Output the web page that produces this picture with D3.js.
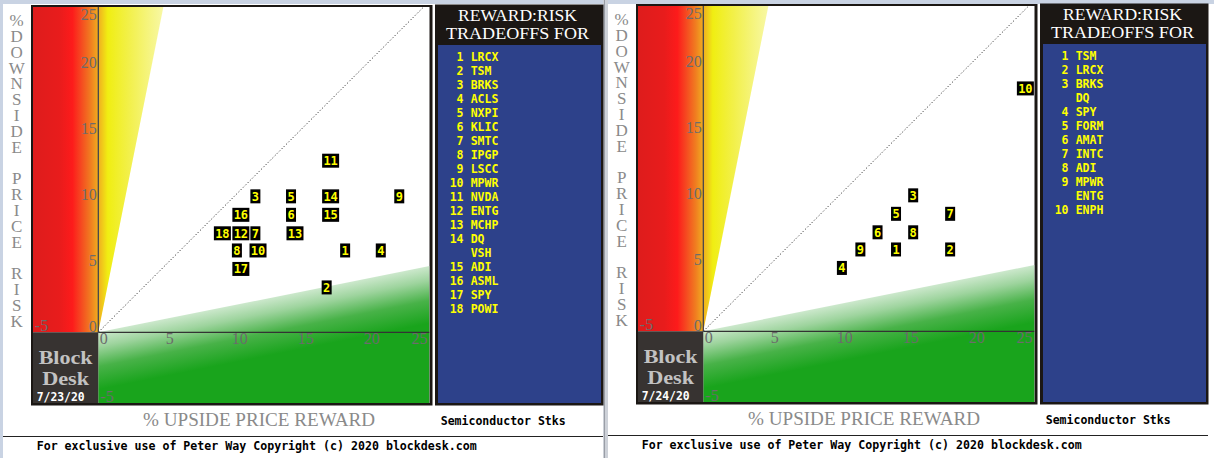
<!DOCTYPE html>
<html><head><meta charset="utf-8">
<script src="https://cdn.jsdelivr.net/npm/d3@7"></script>
<style>html,body{margin:0;padding:0;background:#fff;overflow:hidden}</style>
</head><body><svg id="c" width="1214" height="458"></svg>
<script>
// ---------- data ----------
const tickValues = [-5, 0, 5, 10, 15, 20, 25];
const yTitle = "%DOWNSIDE PRICE RISK";
const xTitle = "% UPSIDE PRICE REWARD";
const legendTitle = ["REWARD:RISK", "TRADEOFFS FOR"];
const groupName = "Semiconductor Stks";
const footer = "For exclusive use of Peter Way Copyright (c) 2020 blockdesk.com";
const dates = ["7/23/20", "7/24/20"];

const leftLabels = ["1","2","3","4","5","6","7","8","9","10","11","12","13","14","15","16","17","18"];
const leftReward = [18.7, 17.3, 11.9, 21.4, 14.6, 14.6, 11.9, 10.5, 22.8, 12.1, 17.6, 10.8, 14.9, 17.6, 17.6, 10.8, 10.8, 9.4];
const leftRisk   = [6.2, 3.4, 10.3, 6.2, 10.3, 8.9, 7.5, 6.2, 10.3, 6.2, 13.0, 7.5, 7.5, 10.3, 8.9, 8.9, 4.8, 7.5];
const leftLegendNums = ["1","2","3","4","5","6","7","8","9","10","11","12","13","14","","15","16","17","18"];
const leftLegendTickers = ["LRCX","TSM","BRKS","ACLS","NXPI","KLIC","SMTC","IPGP","LSCC","MPWR","NVDA","ENTG","MCHP","DQ","VSH","ADI","ASML","SPY","POWI"];

const rightLabels = ["1","2","3","4","5","6","7","8","9","10"];
const rightReward = [14.6, 18.7, 15.9, 10.5, 14.6, 13.2, 18.7, 15.9, 11.9, 24.4];
const rightRisk   = [6.2, 6.2, 10.3, 4.8, 8.9, 7.5, 8.9, 7.5, 6.2, 18.4];
const rightLegendNums = ["1","2","3","","4","5","6","7","8","9","","10"];
const rightLegendTickers = ["TSM","LRCX","BRKS","DQ","SPY","FORM","AMAT","INTC","ADI","MPWR","ENTG","ENPH"];

// ---------- drawing ----------
const W = 1214, H = 458;
const SERIF = "'Liberation Serif','Times New Roman',serif";
const MONO = "'DejaVu Sans Mono','Liberation Mono',monospace";
const svg = d3.select("#c");
const defs = svg.append("defs");

svg.append("rect").attr("width", W).attr("height", H).attr("fill", "#fff");
svg.append("rect").attr("x", 0).attr("y", 0).attr("width", W).attr("height", 4).attr("fill", "#c9d3e3");
svg.append("rect").attr("x", 0).attr("y", 0).attr("width", 3).attr("height", H).attr("fill", "#c9d3e3");
svg.append("rect").attr("x", 603).attr("y", 0).attr("width", 5).attr("height", H).attr("fill", "#cdd1d8");
svg.append("line").attr("x1", 604.5).attr("x2", 604.5).attr("y1", 0).attr("y2", H).attr("stroke", "#9a9ea6").attr("stroke-width", 1);

function panel(idx, ox, oy, labels, reward, risk, lNums, lTickers, date) {
  const g = svg.append("g");
  const px = 13.2;
  const x0 = ox + 98.3, y0 = oy + 332.3;
  const x = d3.scaleLinear().domain([-5, 25]).range([x0 - 5 * px, x0 + 25 * px]);
  const y = d3.scaleLinear().domain([-5, 25]).range([y0 + 5 * px, y0 - 25 * px]);
  const left = ox + 33, right = ox + 429.5, top = oy + 7, bottom = oy + 403;
  const xLo = x.invert(left), xHi = x.invert(right), yHi = y.invert(top), yLo = y.invert(bottom);

  // frame
  g.append("rect").attr("x", ox + 31).attr("y", oy + 5).attr("width", 401.5).attr("height", 400.5).attr("fill", "#1b1714");
  g.append("rect").attr("x", left).attr("y", top).attr("width", right - left).attr("height", bottom - top).attr("fill", "#fff");

  const clipId = "clip" + idx;
  defs.append("clipPath").attr("id", clipId).append("rect")
    .attr("x", left).attr("y", top).attr("width", right - left).attr("height", bottom - top);

  // gradients
  const hot = defs.append("linearGradient").attr("id", "hot" + idx)
    .attr("gradientUnits", "userSpaceOnUse")
    .attr("x1", x(xLo)).attr("x2", x(5)).attr("y1", 0).attr("y2", 0);
  [[0, "#de1c1c"], [0.2, "#e81c1c"], [0.3, "#fd1b1b"], [0.36, "#f64420"], [0.44, "#f07e20"],
   [0.5, "#f0b020"], [0.57, "#f0ee12"], [0.73, "#f2f04a"], [1, "#f8f8a8"]]
    .forEach(s => hot.append("stop").attr("offset", s[0]).attr("stop-color", s[1]));
  const grn = defs.append("linearGradient").attr("id", "grn" + idx)
    .attr("gradientUnits", "userSpaceOnUse")
    .attr("x1", x(0)).attr("y1", y(0)).attr("x2", x(0) + 11).attr("y2", y(0) + 55);
  [[0, "#cce8cc"], [0.25, "#9ed49e"], [0.6, "#48b248"], [1, "#19a41c"]]
    .forEach(s => grn.append("stop").attr("offset", s[0]).attr("stop-color", s[1]));

  const pg = g.append("g").attr("clip-path", `url(#${clipId})`);
  const poly = pts => pts.map(p => [x(p[0]), y(p[1])].join(",")).join(" ");

  // red zone (left of y axis, above x axis)
  pg.append("polygon").attr("points", poly([[xLo, 0], [xLo, yHi], [0, yHi], [0, 0]])).attr("fill", `url(#hot${idx})`);
  // yellow wedge (risk > 5x reward)
  pg.append("polygon").attr("points", poly([[0, 0], [0, yHi], [yHi / 5, yHi]])).attr("fill", `url(#hot${idx})`);
  // green zone (reward > 5x risk)
  pg.append("polygon").attr("points", poly([[0, 0], [xHi, xHi / 5], [xHi, yLo], [0, yLo]])).attr("fill", `url(#grn${idx})`);
  // dark brand box
  pg.append("polygon").attr("points", poly([[xLo, 0], [0, 0], [0, yLo], [xLo, yLo]])).attr("fill", "#373331");

  // 1:1 dotted diagonal
  const dmax = Math.min(xHi, yHi);
  pg.append("line").attr("x1", x(0)).attr("y1", y(0)).attr("x2", x(dmax)).attr("y2", y(dmax))
    .attr("stroke", "#111").attr("stroke-width", 1).attr("stroke-dasharray", "1,2.2");

  // axes lines
  pg.append("line").attr("x1", x(0)).attr("x2", x(0)).attr("y1", y(yHi)).attr("y2", y(0))
    .attr("stroke", "#3a3a4a").attr("stroke-width", 1.2);
  pg.append("line").attr("x1", x(0)).attr("x2", x(xHi)).attr("y1", y(0)).attr("y2", y(0))
    .attr("stroke", "#333").attr("stroke-width", 1.2);

  // tick labels
  const tickColor = "#6c6c6c";
  tickValues.forEach(v => {
    const t = String(v);
    if (v === -5) {
      g.append("text").text(t).attr("x", x(0) + 2).attr("y", bottom - 1)
        .attr("font-family", SERIF).attr("font-size", 16).attr("fill", tickColor);
    } else {
      g.append("text").text(t).attr("x", x(0) - 1.5)
        .attr("y", Math.max(top + 12.5, Math.min(y(v), bottom - 1)))
        .attr("text-anchor", "end").attr("font-family", SERIF).attr("font-size", 16).attr("fill", tickColor);
    }
  });
  tickValues.forEach(v => {
    const t = String(v);
    if (v === -5) {
      g.append("text").text(t).attr("x", x(v) + 2.5).attr("y", y(0) - 1.5)
        .attr("font-family", SERIF).attr("font-size", 16).attr("fill", tickColor);
    } else {
      const w = 8 * t.length;
      g.append("text").text(t).attr("x", Math.min(x(v) + 1.5, right - 2 - w)).attr("y", y(0) + 11.5)
        .attr("font-family", SERIF).attr("font-size", 16).attr("fill", tickColor);
    }
  });

  // brand text
  const bx = (x(xLo) + x(0)) / 2;
  g.append("text").text("Block").attr("x", bx).attr("y", oy + 364).attr("text-anchor", "middle")
    .attr("font-family", SERIF).attr("font-weight", "bold").attr("font-size", 18.5).attr("fill", "#c2c2c2")
    .attr("textLength", 54).attr("lengthAdjust", "spacingAndGlyphs");
  g.append("text").text("Desk").attr("x", bx).attr("y", oy + 385).attr("text-anchor", "middle")
    .attr("font-family", SERIF).attr("font-weight", "bold").attr("font-size", 18.5).attr("fill", "#c2c2c2")
    .attr("textLength", 47).attr("lengthAdjust", "spacingAndGlyphs");
  g.append("text").text(date).attr("x", ox + 36.7).attr("y", oy + 401)
    .attr("font-family", MONO).attr("font-weight", "bold").attr("font-size", 11.5).attr("fill", "#fff")
    .attr("textLength", 48).attr("lengthAdjust", "spacingAndGlyphs");

  // points
  const pts = g.append("g");
  labels.forEach((lab, i) => {
    const cx = x(reward[i]), cy = y(risk[i]);
    const w = 7 * lab.length + 3;
    pts.append("rect").attr("x", cx - w / 2).attr("y", cy - 7).attr("width", w).attr("height", 14).attr("fill", "#000");
    pts.append("text").text(lab).attr("x", cx).attr("y", cy + 4.3).attr("text-anchor", "middle")
      .attr("font-family", MONO).attr("font-weight", "bold").attr("font-size", 12).attr("fill", "#ffff00");
  });

  // y title: one vertical text, upright letters, 16px per character cell
  g.append("text").text(yTitle)
    .attr("x", ox + 16.7).attr("y", oy + 11)
    .attr("font-family", SERIF).attr("font-size", 17).attr("fill", "#8a8a8a")
    .style("writing-mode", "vertical-rl").style("text-orientation", "upright")
    .attr("textLength", 16 * yTitle.length).attr("lengthAdjust", "spacing");
  // x title
  g.append("text").text(xTitle).attr("x", ox + 259).attr("y", oy + 426).attr("text-anchor", "middle")
    .attr("font-family", SERIF).attr("font-size", 18).attr("fill", "#8a8a8a")
    .attr("textLength", 232).attr("lengthAdjust", "spacingAndGlyphs");

  // legend
  g.append("rect").attr("x", ox + 435).attr("y", oy + 4.5).attr("width", 168.5).attr("height", 401).attr("fill", "#1b1714");
  g.append("rect").attr("x", ox + 438).attr("y", oy + 45).attr("width", 163).attr("height", 358).attr("fill", "#2d418a");
  legendTitle.forEach((t, i) => {
    g.append("text").text(t).attr("x", ox + 517.5).attr("y", oy + 21 + 18 * i).attr("text-anchor", "middle")
      .attr("font-family", SERIF).attr("font-size", 16).attr("fill", "#fff")
      .attr("textLength", i === 0 ? 119 : 143).attr("lengthAdjust", "spacingAndGlyphs");
  });
  lTickers.forEach((t, i) => {
    const by = oy + 60.5 + 14 * i;
    if (lNums[i]) g.append("text").text(lNums[i]).attr("x", ox + 463.5).attr("y", by).attr("text-anchor", "end")
      .attr("font-family", MONO).attr("font-weight", "bold").attr("font-size", 11.5).attr("fill", "#ffff00");
    g.append("text").text(t).attr("x", ox + 470.7).attr("y", by)
      .attr("font-family", MONO).attr("font-weight", "bold").attr("font-size", 11.5).attr("fill", "#ffff00");
  });

  // group name, footer
  g.append("text").text(groupName).attr("x", ox + 440.7).attr("y", oy + 425)
    .attr("font-family", MONO).attr("font-weight", "bold").attr("font-size", 11.5).attr("fill", "#000")
    .attr("textLength", 125).attr("lengthAdjust", "spacingAndGlyphs");
  g.append("line").attr("x1", ox + 3).attr("x2", ox + 603).attr("y1", oy + 436.5).attr("y2", oy + 436.5)
    .attr("stroke", "#222").attr("stroke-width", 1.2);
  g.append("text").text(footer).attr("x", ox + 36.7).attr("y", oy + 450)
    .attr("font-family", MONO).attr("font-weight", "bold").attr("font-size", 11.5).attr("fill", "#000")
    .attr("textLength", 440).attr("lengthAdjust", "spacingAndGlyphs");
}

panel(0, 0, 0, leftLabels, leftReward, leftRisk, leftLegendNums, leftLegendTickers, dates[0]);
panel(1, 605, -1, rightLabels, rightReward, rightRisk, rightLegendNums, rightLegendTickers, dates[1]);
</script></body></html>
